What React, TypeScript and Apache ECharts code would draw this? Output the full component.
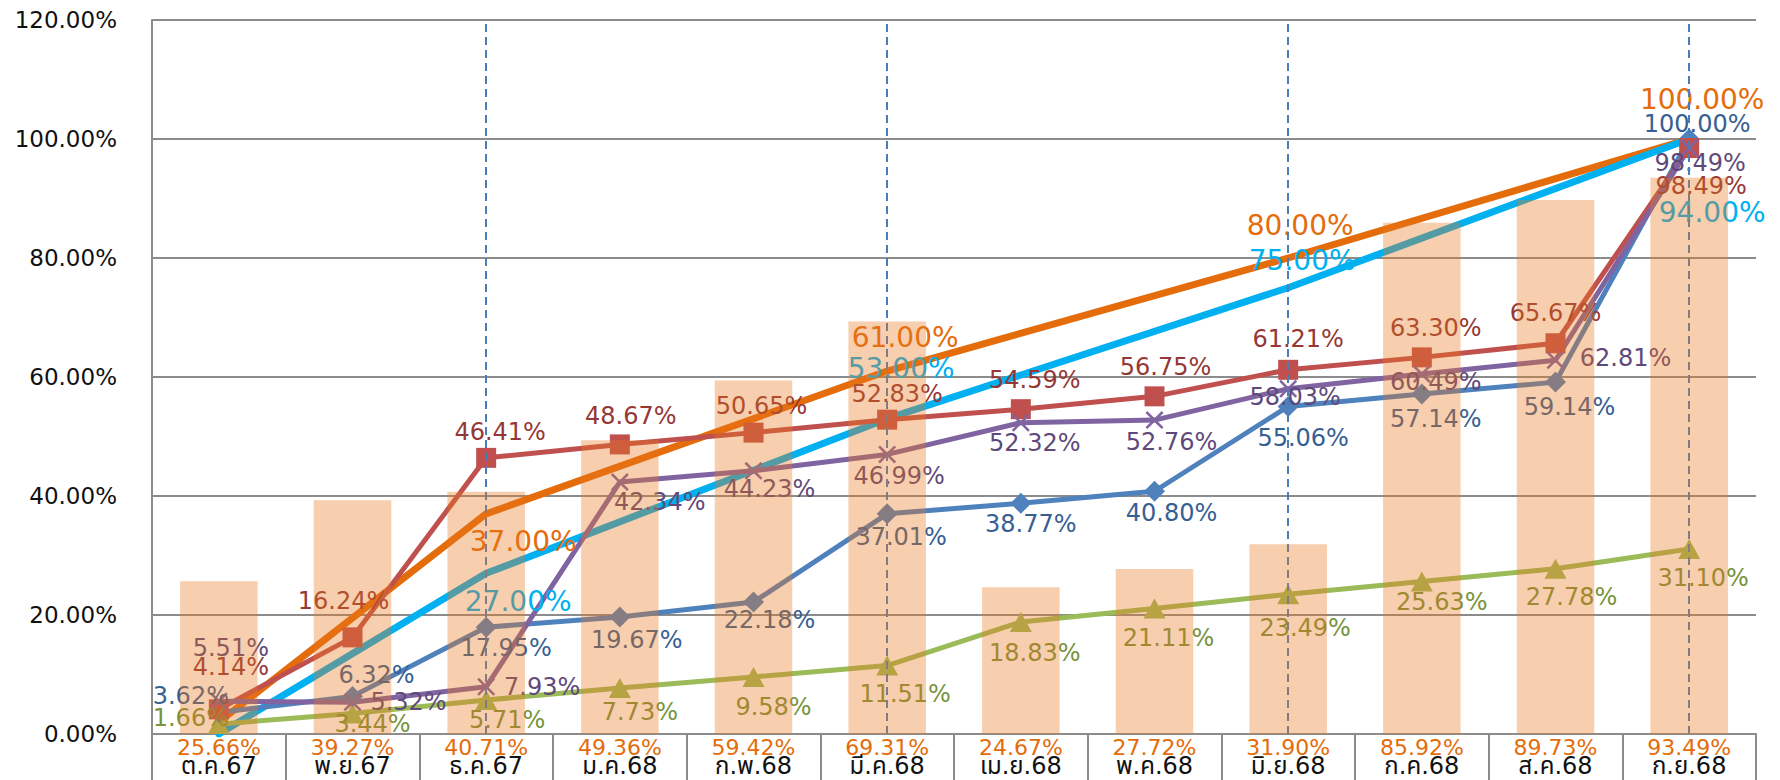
import React, { useEffect, useRef } from "react";
import * as echarts from "echarts";

// ---------- data ----------
const months = [
  "ต.ค.67", "พ.ย.67", "ธ.ค.67", "ม.ค.68", "ก.พ.68", "มี.ค.68",
  "เม.ย.68", "พ.ค.68", "มิ.ย.68", "ก.ค.68", "ส.ค.68", "ก.ย.68",
];
const quarterMonths = ["ธ.ค.67", "มี.ค.68", "มิ.ย.68", "ก.ย.68"];

const barValues = [25.66, 39.27, 40.71, 49.36, 59.42, 69.31, 24.67, 27.72, 31.9, 85.92, 89.73, 93.49];

const orangeTarget = [2, null, 37, null, null, 61, null, null, 80, null, null, 100];
const cyanTarget = [0, null, 27, null, null, 53, null, null, 75, null, null, 100];
const cyanLabelText = [null, null, "27.00%", null, null, "53.00%", null, null, "75.00%", null, null, "94.00%"];

const redValues = [4.14, 16.24, 46.41, 48.67, 50.65, 52.83, 54.59, 56.75, 61.21, 63.3, 65.67, 98.49];
const purpleValues = [5.51, 5.32, 7.93, 42.34, 44.23, 46.99, 52.32, 52.76, 58.03, 60.49, 62.81, 98.49];
const blueValues = [3.62, 6.32, 17.95, 19.67, 22.18, 37.01, 38.77, 40.8, 55.06, 57.14, 59.14, 100.0];
const greenValues = [1.66, 3.44, 5.71, 7.73, 9.58, 11.51, 18.83, 21.11, 23.49, 25.63, 27.78, 31.1];

const yTicks = { min: 0, max: 120, step: 20 };

// ---------- label placement (offsets from the point, px) ----------
const orangeLabelOffset = [null, null, [37, 28], null, null, [18, -34], null, null, [12, -33], null, null, [13, -40]];
const cyanLabelOffset = [null, null, [32, 28], null, null, [14, -50], null, null, [14, -27], null, null, [23, 73]];
const redLabelOffset = [[12, -42], [-9, -36], [14, -26], [11, -28], [8, -27], [10, -26], [14, -29], [11, -29], [10, -31], [14, -29], [0, -30], [12, 38]];
const purpleLabelOffset = [[12, -53], [56, 0], [56, 0], [40, 20], [16, 18], [12, 22], [14, 20], [17, 22], [7, 8], [14, 8], [70, -2], [11, 15]];
const blueLabelOffset = [[-28, -16], [24, -21], [20, 21], [17, 23], [16, 18], [14, 23], [10, 21], [17, 22], [15, 32], [14, 25], [14, 25], [8, -15]];
const greenLabelOffset = [[-28, -6], [20, 10], [21, 20], [20, 24], [20, 30], [18, 28], [14, 31], [14, 30], [17, 34], [20, 20], [16, 28], [14, 29]];

const FONT = "'DejaVu Sans', 'Noto Sans Thai', 'Noto Sans', sans-serif";
const pct = (v: number) => v.toFixed(2) + "%";

function buildData(values: (number | null)[], offsets: (number[] | null)[]) {
  return values.map((v, i) => {
    const off = offsets[i];
    return {
      value: v,
      label: off ? { show: true, offset: off } : { show: false },
    };
  });
}

function lineSeries(
  name: string,
  values: (number | null)[],
  offsets: (number[] | null)[],
  color: string,
  labelColor: string,
  width: number,
  symbol: string,
  symbolSize: number | number[],
  fontSize: number,
  formatter?: (p: any) => string
) {
  return {
    type: "line",
    name,
    z: 2,
    data: buildData(values, offsets),
    connectNulls: true,
    symbol,
    symbolSize,
    showAllSymbol: true,
    lineStyle: { color, width, cap: "round", join: "round" },
    itemStyle: { color },
    label: {
      show: true,
      position: "inside",
      color: labelColor,
      fontSize,
      fontFamily: FONT,
      textBorderWidth: 0,
      formatter: formatter || ((p: any) => pct(p.value)),
    },
    emphasis: { disabled: true },
  };
}

export default function App() {
  const ref = useRef<HTMLDivElement>(null);

  useEffect(() => {
    document.body.style.margin = "0";
    if (!ref.current) return;
    const chart = echarts.init(ref.current, null, { renderer: "svg" });

    const xMark = "path://M1,0 L5,4 L9,0 L10,1 L6,5 L10,9 L9,10 L5,6 L1,10 L0,9 L4,5 L0,1 Z";

    const orange = lineSeries("orange", orangeTarget, orangeLabelOffset, "#E46C0A", "#E46C0A", 7, "circle", 2, 28);
    (orange as any).markLine = {
      silent: true,
      z: 4,
      symbol: ["none", "none"],
      label: { show: false },
      lineStyle: { type: [8, 5], color: "#4A7EBB", width: 2 },
      data: quarterMonths.map((m) => ({ xAxis: m })),
    };
    const cyan = lineSeries("cyan", cyanTarget, cyanLabelOffset, "#00B0F0", "#00B0F0", 7, "circle", 2, 28,
      (p: any) => cyanLabelText[p.dataIndex] || "");
    const green = lineSeries("green", greenValues, greenLabelOffset, "#9BBB59", "#77933C", 5, "triangle", [22, 20], 24);
    const blue = lineSeries("blue", blueValues, blueLabelOffset, "#4F81BD", "#376092", 5, "diamond", 21, 24);
    const red = lineSeries("red", redValues, redLabelOffset, "#C0504D", "#953735", 5, "rect", 20, 24);
    const purple = lineSeries("purple", purpleValues, purpleLabelOffset, "#8064A2", "#5F497A", 5, xMark, 18, 24);

    const option: any = {
      animation: false,
      backgroundColor: "#ffffff",
      grid: { left: 152, right: 24, top: 20, bottom: 46, containLabel: false },
      xAxis: {
        type: "category",
        data: months,
        boundaryGap: true,
        axisLine: { show: true, lineStyle: { color: "#8c8c8c", width: 2 } },
        axisTick: { show: true, interval: 0, length: 46, lineStyle: { color: "#8c8c8c", width: 2 } },
        axisLabel: {
          interval: 0,
          margin: 19,
          color: "#111",
          fontSize: 24,
          lineHeight: 26,
          fontFamily: FONT,
        },
        splitLine: { show: false },
      },
      yAxis: {
        type: "value",
        min: yTicks.min,
        max: yTicks.max,
        interval: yTicks.step,
        axisLine: { show: true, lineStyle: { color: "#8c8c8c", width: 2 } },
        axisTick: { show: false },
        axisLabel: {
          margin: 35,
          color: "#111",
          fontSize: 23,
          fontFamily: FONT,
          formatter: (v: number) => pct(v),
        },
        splitLine: { show: true, lineStyle: { color: "#8c8c8c", width: 2 } },
      },
      series: [
        orange,
        cyan,
        green,
        blue,
        red,
        purple,
        {
          type: "bar",
          name: "bars",
          z: 5,
          data: barValues,
          barWidth: "58%",
          itemStyle: { color: "rgba(232,120,30,0.36)" },
          label: {
            show: true,
            position: ["50%", "100%"],
            offset: [0, 13],
            align: "center",
            verticalAlign: "middle",
            color: "#E46C0A",
            fontSize: 22,
            fontFamily: FONT,
            textBorderWidth: 0,
            formatter: (p: any) => pct(p.value),
          },
          emphasis: { disabled: true },
        },
      ],
    };

    chart.setOption(option);
    return () => chart.dispose();
  }, []);

  return <div ref={ref} style={{ width: 1780, height: 780 }} />;
}
